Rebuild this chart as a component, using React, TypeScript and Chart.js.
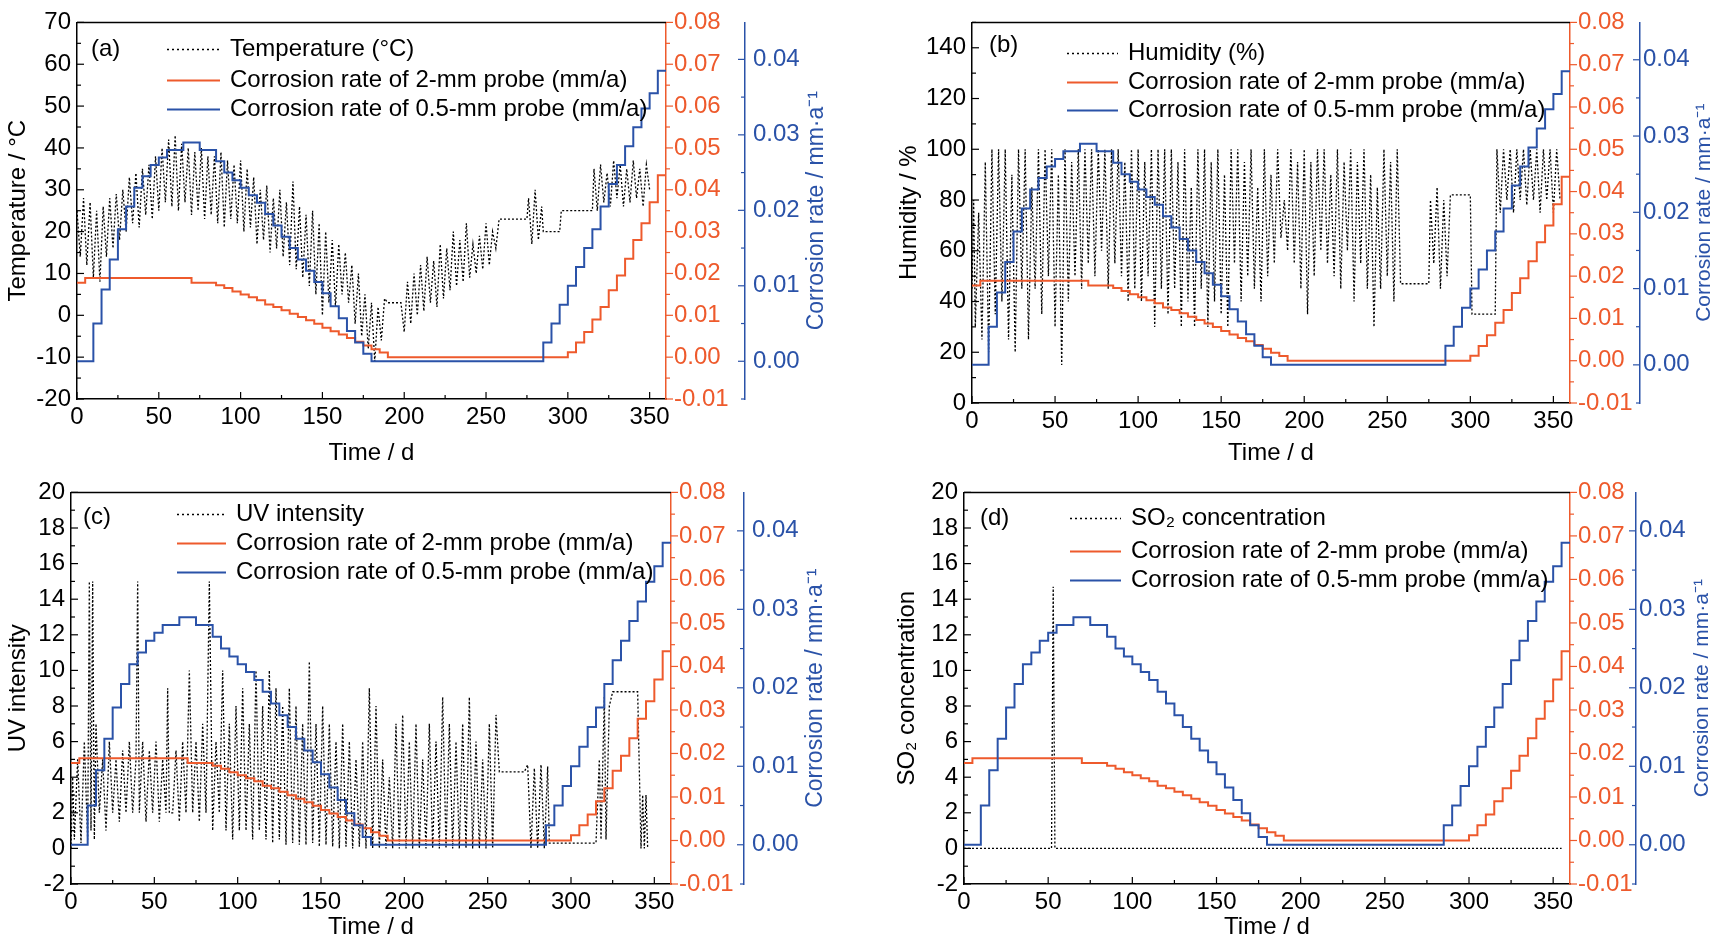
import React, { useEffect, useRef } from "react";
import { Chart, registerables } from "chart.js";
Chart.register(...registerables);

const DAYS5 = [0,5,10,15,20,25,30,35,40,45,50,55,60,65,70,75,80,85,90,95,100,105,110,115,120,125,130,135,140,145,150,155,160,165,170,175,180,185,190,195,200,205,210,215,220,225,230,235,240,245,250,255,260,265,270,275,280,285,290,295,300,305,310,315,320,325,330,335,340,345,350,355,360];
const RATE_05MM = [0,0,0,0.005,0.0095,0.0135,0.0175,0.0205,0.023,0.0245,0.026,0.027,0.028,0.028,0.029,0.029,0.028,0.028,0.0265,0.025,0.024,0.023,0.022,0.021,0.0195,0.018,0.0165,0.015,0.0135,0.012,0.0105,0.009,0.0073,0.0057,0.004,0.0025,0.001,0,0,0,0,0,0,0,0,0,0,0,0,0,0,0,0,0,0,0,0,0,0.0025,0.005,0.0075,0.01,0.0125,0.015,0.0175,0.0205,0.0235,0.026,0.0285,0.031,0.0335,0.0355,0.0385];
const RATE_2MM = [0.0178,0.0178,0.0189,0.0189,0.0189,0.0189,0.0189,0.0189,0.0189,0.0189,0.0189,0.0189,0.0189,0.0189,0.0189,0.0178,0.0178,0.0178,0.0172,0.0165,0.0157,0.015,0.0143,0.0136,0.0126,0.012,0.0112,0.0104,0.0096,0.0088,0.008,0.007,0.0062,0.0054,0.0046,0.0037,0.0028,0.0019,0.0011,0,0,0,0,0,0,0,0,0,0,0,0,0,0,0,0,0,0,0,0,0,0,0.0012,0.0035,0.006,0.009,0.012,0.016,0.0195,0.0235,0.028,0.032,0.037,0.0435];

const TEMPERATURE: [number, number][] = [[0,25],[2,14],[4,28],[6,12],[8,27],[10,9],[12,25],[14,8],[16,26],[18,14],[20,28],[22,16],[24,29],[26,18],[28,30],[30,20],[32,33],[34,22],[36,34],[38,21],[40,35],[42,24],[44,36],[46,23],[48,38],[50,25],[52,40],[54,27],[56,42],[58,26],[60,43],[62,25],[64,41],[66,27],[68,40],[70,24],[72,39],[74,25],[76,40],[78,23],[80,38],[82,24],[84,38],[86,22],[88,39],[90,21],[92,37],[94,23],[96,36],[98,22],[100,37],[102,20],[104,35],[106,21],[108,33],[110,17],[112,30],[114,18],[116,31],[118,15],[120,28],[122,16],[124,30],[126,14],[128,27],[130,12],[132,32],[134,11],[136,26],[138,9],[140,24],[142,7],[144,25],[146,5],[148,22],[150,0],[152,20],[154,3],[156,18],[158,2],[160,17],[162,5],[164,15],[166,3],[168,12],[170,-2],[172,10],[174,-5],[176,5],[178,-8],[180,3],[182,-11],[184,2],[186,-6],[188,4],[190,3],[198,3],[200,-4],[202,8],[204,-2],[206,10],[208,0],[210,12],[212,1],[214,14],[216,3],[218,13],[220,2],[222,17],[224,4],[226,16],[228,6],[230,20],[232,7],[234,18],[236,8],[238,22],[240,9],[242,17],[244,10],[246,19],[248,11],[250,22],[252,12],[254,20],[256,16],[258,23],[275,23],[276,28],[278,17],[280,30],[282,18],[284,26],[285,20],[295,20],[296,25],[315,25],[316,35],[318,25],[320,36],[322,27],[324,34],[326,26],[328,37],[330,28],[332,36],[334,26],[336,35],[338,27],[340,37],[342,28],[344,35],[346,26],[348,36],[350,30]];
const HUMIDITY: [number, number][] = [[0,45],[1,80],[2,30],[4,75],[6,25],[8,95],[10,20],[12,100],[14,35],[16,100],[18,40],[20,100],[22,25],[24,90],[26,20],[28,100],[30,45],[32,100],[34,25],[36,85],[38,45],[40,100],[42,35],[44,100],[46,50],[48,100],[50,30],[52,90],[54,15],[56,100],[58,40],[60,95],[62,50],[64,100],[66,45],[68,100],[70,55],[72,100],[74,50],[76,100],[78,60],[80,100],[82,45],[84,100],[86,55],[88,100],[90,50],[92,95],[94,40],[96,100],[98,45],[100,100],[102,40],[104,95],[106,50],[108,100],[110,30],[112,100],[114,45],[116,100],[118,35],[120,100],[122,45],[124,95],[126,30],[128,100],[130,40],[132,85],[134,30],[136,100],[138,45],[140,100],[142,30],[144,95],[146,40],[148,100],[150,35],[152,90],[154,30],[156,100],[158,55],[160,100],[162,40],[164,95],[166,50],[168,100],[170,45],[172,85],[174,40],[176,100],[178,50],[180,90],[182,55],[184,100],[186,65],[188,80],[190,60],[192,100],[194,55],[196,95],[198,45],[200,100],[202,35],[204,95],[206,50],[208,100],[210,60],[212,100],[214,55],[216,90],[218,50],[220,100],[222,45],[224,95],[226,60],[228,100],[230,40],[232,95],[234,55],[236,100],[238,45],[240,90],[242,30],[244,85],[246,45],[248,100],[250,50],[252,95],[254,40],[256,100],[258,47],[275,47],[276,80],[278,55],[280,85],[282,45],[284,80],[286,50],[288,82],[300,82],[301,35],[315,35],[316,100],[318,75],[320,100],[322,80],[324,100],[326,75],[328,100],[330,80],[332,100],[334,78],[336,100],[338,80],[340,100],[342,75],[344,100],[346,80],[348,100],[350,75],[352,100],[354,80]];
const UV: [number, number][] = [[0,0],[1,4],[2,0.5],[4,5],[6,0.3],[8,6],[10,0.5],[11,15],[12,1],[13,15],[14,0.5],[15,7],[17,2],[19,5],[21,1],[23,6],[25,2],[27,5],[29,1.5],[31,5.5],[33,2],[35,6],[37,2],[39,5],[40,15],[41,2],[43,6],[45,1.5],[47,5.5],[49,2],[51,6],[53,1.5],[55,5],[57,2],[58,9],[59,2],[61,2],[63,5.5],[65,1.5],[67,6],[69,2],[71,10],[73,2],[75,6],[77,1.5],[79,7],[81,2],[83,15],[85,1],[87,6],[89,2],[91,10],[93,1],[95,7],[97,0.5],[99,8],[101,1],[103,9],[105,1],[107,7],[109,0.5],[111,10],[113,1],[115,8],[117,0.5],[119,10],[121,0.3],[123,9],[125,0.5],[127,8],[129,0.2],[131,9],[133,0.3],[135,8],[137,0.2],[139,7],[141,0.2],[143,10.5],[145,0.3],[147,7],[149,0.1],[151,8],[153,0.2],[155,7],[157,0.1],[159,6],[161,0],[163,7],[165,0.1],[167,6],[169,0],[171,5],[173,0.1],[175,6],[177,0],[179,9],[181,0],[183,8],[185,0],[187,5],[189,0],[191,4],[193,0],[195,7],[197,0],[199,7.5],[201,0],[203,6],[205,0],[207,7],[209,0],[211,5],[213,0],[215,7],[217,0],[219,6],[221,0],[223,8.5],[225,0],[227,7],[229,0],[231,6],[233,0],[235,7],[237,0],[239,8.5],[241,0],[243,6],[245,0],[247,5],[249,0],[251,7],[253,0],[255,7.5],[257,4.3],[272,4.3],[274,4.7],[276,0],[278,4.5],[280,0],[282,4.7],[284,0],[286,4.6],[287,0.3],[315,0.3],[317,5],[318,0.5],[320,8.5],[321,0.5],[323,8],[325,8.8],[340,8.8],[342,0],[343,3],[344,0],[345,3],[346,0]];
const SO2: [number, number][] = [[0,0],[52,0],[53,14.7],[54,0],[55,0],[355,0]];

const X_TICKS = [0,50,100,150,200,250,300,350];
const ORANGE_TICKS = [-0.01,0,0.01,0.02,0.03,0.04,0.05,0.06,0.07,0.08];
const BLUE_TICKS = [0,0.01,0.02,0.03,0.04];
const TEMP_TICKS = [-20,-10,0,10,20,30,40,50,60,70];
const HUM_TICKS = [0,20,40,60,80,100,120,140];
const SMALL_TICKS = [-2,0,2,4,6,8,10,12,14,16,18,20];

const ORANGE = "#ee5a2c";
const BLUE = "#2a52a8";
const FONT = "'Liberation Sans', Arial, sans-serif";
const FS = 24;

type P = {
  left: number; top: number; w: number; h: number;
  yW: number; y1W: number; y2W: number; padTop: number; xH: number; titlePad: number; blueDx: number; bluePad: number; blueFs: number;
  ymin: number; ymax: number; yTicks: number[]; yTitle: string;
  data: [number, number][]; tag: string; legend: string;
  lg: { tagDx: number; lineDx: number; textDx: number; rows: number[]; tagDy: number };
};

const PANELS: P[] = [
  { left: 0, top: 0, w: 853, h: 470, yW: 77, y1W: 79, y2W: 108, padTop: 20, xH: 71, titlePad: 4, blueDx: 72, bluePad: 8, blueFs: 23, ymin: -20, ymax: 70, yTicks: TEMP_TICKS, yTitle: "Temperature / \u00B0C", data: TEMPERATURE, tag: "(a)", legend: "Temperature (\u00B0C)", lg: { tagDx: 14, tagDy: 27, lineDx: 90, textDx: 153, rows: [27, 58, 87] } },
  { left: 853, top: 0, w: 860, h: 470, yW: 119, y1W: 70, y2W: 73, padTop: 12, xH: 67, titlePad: 42, blueDx: 64, bluePad: 3, blueFs: 21, ymin: 0, ymax: 150, yTicks: HUM_TICKS, yTitle: "Humidity / %", data: HUMIDITY, tag: "(b)", legend: "Humidity (%)", lg: { tagDx: 17, tagDy: 23, lineDx: 95, textDx: 156, rows: [31, 60, 88] } },
  { left: 0, top: 470, w: 853, h: 474, yW: 71, y1W: 73, y2W: 109, padTop: 17, xH: 60, titlePad: 4, blueDx: 72, bluePad: 8, blueFs: 23, ymin: -2, ymax: 20, yTicks: SMALL_TICKS, yTitle: "UV intensity", data: UV, tag: "(c)", legend: "UV intensity", lg: { tagDx: 12, tagDy: 25, lineDx: 106, textDx: 165, rows: [22, 51, 80] } },
  { left: 853, top: 470, w: 860, h: 474, yW: 111, y1W: 66, y2W: 77, padTop: 22, xH: 60, titlePad: 40, blueDx: 66, bluePad: 3, blueFs: 21, ymin: -2, ymax: 20, yTicks: SMALL_TICKS, yTitle: "SO\u2082 concentration", data: SO2, tag: "(d)", legend: "SO\u2082 concentration", lg: { tagDx: 16, tagDy: 26, lineDx: 106, textDx: 167, rows: [26, 59, 88] } },
];

function setTicks(list: number[]) {
  return (s: any) => { s.ticks = list.map((v) => ({ value: v })); };
}

function Panel({ p }: { p: P }) {
  const ref = useRef<HTMLCanvasElement>(null);
  useEffect(() => {
    const tickFont = { family: FONT, size: FS };
    const deco = {
      id: "deco",
      afterDraw(chart: any) {
        const ctx = chart.ctx;
        const a = chart.chartArea;
        const sx = chart.scales.x, sy = chart.scales.y, s1 = chart.scales.y1, s2 = chart.scales.y2;
        ctx.save();
        ctx.lineWidth = 1.5;
        ctx.strokeStyle = "#000";
        ctx.beginPath(); ctx.moveTo(a.left, a.top); ctx.lineTo(a.right, a.top); ctx.stroke();
        ctx.lineWidth = 1.2;
        for (let v = 0; v <= 350; v += 25) {
          const x = sx.getPixelForValue(v);
          const L = v % 50 === 0 ? 7 : 4;
          ctx.beginPath(); ctx.moveTo(x, a.bottom); ctx.lineTo(x, a.bottom - L); ctx.stroke();
        }
        const st = p.yTicks[1] - p.yTicks[0];
        for (let v = p.ymin; v <= p.ymax + 1e-9; v += st / 2) {
          const y = sy.getPixelForValue(v);
          const r = (v - p.yTicks[0]) / st;
          const major = Math.abs(r - Math.round(r)) < 1e-6;
          const L = major ? 7 : 4;
          ctx.beginPath(); ctx.moveTo(a.left, y); ctx.lineTo(a.left + L, y); ctx.stroke();
        }
        ctx.strokeStyle = ORANGE;
        for (let i = -2; i <= 16; i++) {
          const y = s1.getPixelForValue(i * 0.005);
          const L = i % 2 === 0 ? 7 : 4;
          ctx.beginPath(); ctx.moveTo(s1.left, y); ctx.lineTo(s1.left + L, y); ctx.stroke();
        }
        ctx.strokeStyle = BLUE;
        for (let i = -1; i <= 8; i++) {
          const y = s2.getPixelForValue(i * 0.005);
          const L = i % 2 === 0 ? 7 : 4;
          ctx.beginPath(); ctx.moveTo(s2.left, y); ctx.lineTo(s2.left - L, y); ctx.stroke();
        }
        ctx.fillStyle = BLUE;
        ctx.font = `${p.blueFs}px ${FONT}`;
        ctx.textAlign = "center";
        ctx.textBaseline = "middle";
        ctx.translate(s2.left + p.blueDx, (a.top + a.bottom) / 2);
        ctx.rotate(-Math.PI / 2);
        ctx.fillText("Corrosion rate / mm\u00B7a\u207B\u00B9", 0, 0);
        ctx.restore();
        ctx.save();
        ctx.font = `${FS}px ${FONT}`;
        ctx.textBaseline = "middle";
        ctx.textAlign = "left";
        ctx.fillStyle = "#000";
        ctx.fillText(p.tag, a.left + p.lg.tagDx, a.top + p.lg.tagDy);
        const items = [
          { t: p.legend, c: "#000", dash: [2, 3] },
          { t: "Corrosion rate of 2-mm probe (mm/a)", c: ORANGE, dash: [] },
          { t: "Corrosion rate of 0.5-mm probe (mm/a)", c: BLUE, dash: [] },
        ];
        items.forEach((it, i) => {
          const y = a.top + p.lg.rows[i];
          ctx.strokeStyle = it.c;
          ctx.lineWidth = it.dash.length ? 1.5 : 2;
          ctx.setLineDash(it.dash);
          ctx.beginPath(); ctx.moveTo(a.left + p.lg.lineDx, y); ctx.lineTo(a.left + p.lg.textDx - 10, y); ctx.stroke();
          ctx.setLineDash([]);
          ctx.fillStyle = "#000";
          ctx.fillText(it.t, a.left + p.lg.textDx, y);
        });
        ctx.restore();
      },
    };
    const chart = new Chart(ref.current!, {
      type: "line",
      data: {
        datasets: [
          { data: p.data.map(([x, y]) => ({ x, y })), yAxisID: "y", borderColor: "#000", borderWidth: 1.3, borderDash: [2, 2], pointRadius: 0, tension: 0, order: 3 } as any,
          { data: DAYS5.map((x, i) => ({ x, y: RATE_2MM[i] })), yAxisID: "y1", borderColor: ORANGE, borderWidth: 2, pointRadius: 0, stepped: "after", order: 2 } as any,
          { data: DAYS5.map((x, i) => ({ x, y: RATE_05MM[i] })), yAxisID: "y2", borderColor: BLUE, borderWidth: 2, pointRadius: 0, stepped: "after", order: 1 } as any,
        ],
      },
      options: {
        responsive: false,
        animation: false,
        events: [],
        layout: { padding: { top: p.padTop, left: 0, right: 0, bottom: 0 } },
        plugins: { legend: { display: false }, tooltip: { enabled: false } },
        scales: {
          x: {
            type: "linear", min: 0, max: 360,
            afterBuildTicks: setTicks(X_TICKS),
            afterFit: (s: any) => { s.height = p.xH; },
            ticks: { font: tickFont, color: "#000", padding: 4, maxRotation: 0, autoSkip: false },
            grid: { display: true, drawOnChartArea: false, drawTicks: false },
            border: { color: "#000", width: 1.5 },
            title: { display: true, text: "Time / d", font: { family: FONT, size: FS }, color: "#000", padding: { top: 2, bottom: 2 } },
          },
          y: {
            type: "linear", position: "left", min: p.ymin, max: p.ymax,
            afterBuildTicks: setTicks(p.yTicks),
            afterFit: (s: any) => { s.width = p.yW; },
            ticks: { font: tickFont, color: "#000", padding: 6 },
            grid: { display: true, drawOnChartArea: false, drawTicks: false },
            border: { color: "#000", width: 1.5 },
            title: { display: true, text: p.yTitle, font: { family: FONT, size: FS }, color: "#000", padding: { top: p.titlePad, bottom: 2 } },
          },
          y1: {
            type: "linear", position: "right", min: -0.01, max: 0.08,
            afterBuildTicks: setTicks(ORANGE_TICKS),
            afterFit: (s: any) => { s.width = p.y1W; },
            ticks: { font: tickFont, color: ORANGE, padding: 8, callback: (v: any) => Number(v).toFixed(2) },
            grid: { display: true, drawOnChartArea: false, drawTicks: false },
            border: { color: ORANGE, width: 1.5 },
          },
          y2: {
            type: "linear", position: "right", min: -0.005, max: 0.0449,
            afterBuildTicks: setTicks(BLUE_TICKS),
            afterFit: (s: any) => { s.width = p.y2W; },
            ticks: { font: tickFont, color: BLUE, padding: p.bluePad, callback: (v: any) => Number(v).toFixed(2) },
            grid: { display: true, drawOnChartArea: false, drawTicks: false },
            border: { color: BLUE, width: 1.5 },
          },
        },
      } as any,
      plugins: [deco],
    });
    return () => chart.destroy();
  }, [p]);
  return (
    <canvas ref={ref} width={p.w} height={p.h}
      style={{ position: "absolute", left: p.left, top: p.top, width: p.w, height: p.h }} />
  );
}

export default function App() {
  return (
    <div style={{ position: "fixed", left: 0, top: 0, width: 1713, height: 944, background: "#fff" }}>
      {PANELS.map((p, i) => <Panel key={i} p={p} />)}
    </div>
  );
}
